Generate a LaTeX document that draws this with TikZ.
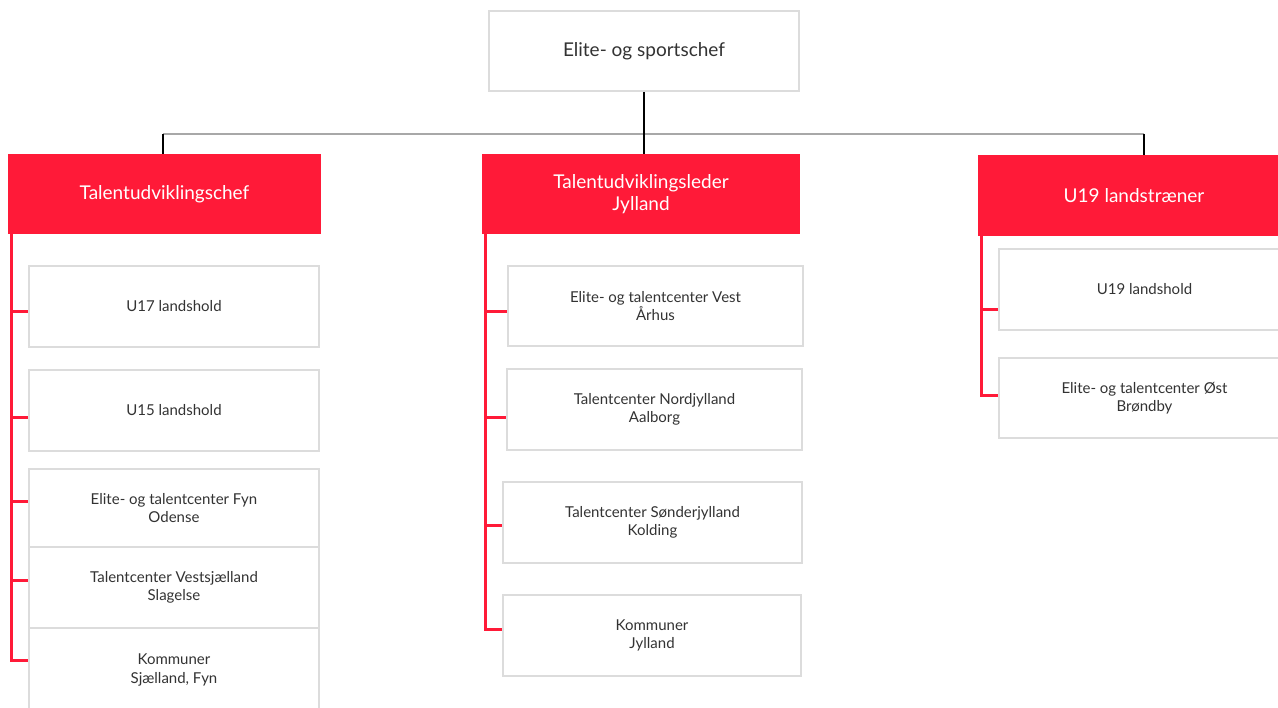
\documentclass[tikz,border=0pt]{standalone}
\usepackage{fontspec}
\setmainfont{Lato}
\definecolor{dbured}{HTML}{FF1A38}
\definecolor{boxgray}{HTML}{DCDCDC}
\definecolor{bargray}{HTML}{A8A8A8}
\definecolor{textgray}{HTML}{333333}

\begin{document}
\begin{tikzpicture}[x=1pt,y=-1pt,
	unit/.style={draw=boxgray, line width=2pt, fill=white, text=textgray, align=center, inner sep=0pt, font=\fontsize{15}{18.5}\selectfont},
	head/.style={fill=dbured, text=white, align=center, inner sep=0pt, font=\fontsize{19}{22}\selectfont},
	spine/.style={draw=dbured, line width=3pt},
	link/.style={draw=black, line width=1.5pt}]
	\useasboundingbox (0,0) rectangle (1278,708);
	\clip (0,0) rectangle (1278,708);
	% top
	\node[unit, font=\fontsize{19}{22}\selectfont, minimum width=310, minimum height=80] (chef) at (644,51) {Elite- og sportschef};
	\node[head, minimum width=313, minimum height=80] (talL) at (164.5,194) {Talentudviklingschef};
	\node[head, minimum width=318, minimum height=80] (talJ) at (641,194) {Talentudviklingsleder\\Jylland};
	\node[head, minimum width=312, minimum height=81] (u19t) at (1134,195.5) {U19 landstræner};
	\coordinate (barL) at (163,134);
	\coordinate (barR) at (1144,134);
	\draw[bargray, line width=2pt] (barL) -- (barR);
	\draw[link] (chef.south) -- (chef.south |- talJ.north);
	\draw[link] (barL) -- (barL |- talL.north);
	\draw[link] (barR) -- (barR |- u19t.north);
	% left column
	\node[unit, minimum width=290, minimum height=81] (u17) at (174,306.5) {U17 landshold};
	\node[unit, minimum width=290, minimum height=81] (u15) at (174,410.5) {U15 landshold};
	\node[unit, minimum width=290, minimum height=78] (fyn) at (174,508) {Elite- og talentcenter Fyn\\Odense};
	\node[unit, minimum width=290, minimum height=81] (vsj) at (174,587.5) {Talentcenter Vestsjælland\\Slagelse};
	\node[unit, minimum width=290, minimum height=84] (komSF) at (174,670) {Kommuner\\Sjælland, Fyn};
	\coordinate (spL) at (11,233);
	\draw[spine] (spL) |- (komSF.west |- 0,660);
	\draw[spine] (spL |- 0,312) -- (u17.west |- 0,312);
	\draw[spine] (spL |- 0,418) -- (u15.west |- 0,418);
	\draw[spine] (spL |- 0,502) -- (fyn.west |- 0,502);
	\draw[spine] (spL |- 0,580) -- (vsj.west |- 0,580);
	% middle column
	\node[unit, minimum width=295, minimum height=80] (vest) at (655.5,306) {Elite- og talentcenter Vest\\Århus};
	\node[unit, minimum width=295, minimum height=81] (nord) at (654.5,409.5) {Talentcenter Nordjylland\\Aalborg};
	\node[unit, minimum width=299, minimum height=81] (sond) at (652.5,522.5) {Talentcenter Sønderjylland\\Kolding};
	\node[unit, minimum width=298, minimum height=81] (komJ) at (652,635.5) {Kommuner\\Jylland};
	\coordinate (spM) at (485,233);
	\draw[spine] (spM) |- (komJ.west |- 0,629);
	\draw[spine] (spM |- 0,312) -- (vest.west |- 0,312);
	\draw[spine] (spM |- 0,418) -- (nord.west |- 0,418);
	\draw[spine] (spM |- 0,526) -- (sond.west |- 0,526);
	% right column
	\node[unit, minimum width=291, minimum height=81] (u19h) at (1144.5,289.5) {U19 landshold};
	\node[unit, minimum width=291, minimum height=80] (ost) at (1144.5,398) {Elite- og talentcenter Øst\\Brøndby};
	\coordinate (spR) at (981,235);
	\draw[spine] (spR) |- (ost.west |- 0,396);
	\draw[spine] (spR |- 0,310) -- (u19h.west |- 0,310);
\end{tikzpicture}
\end{document}
